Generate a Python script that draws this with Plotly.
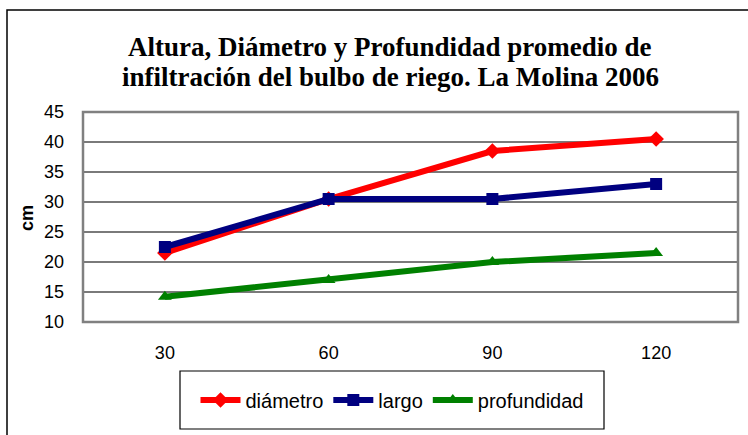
import plotly.graph_objects as go

categories = ["30", "60", "90", "120"]
diametro = [21.5, 30.5, 38.5, 40.5]
largo = [22.5, 30.5, 30.5, 33.0]
profundidad = [14.2, 17.0, 20.0, 21.5]

W, H = 748, 435
L, R, T, B = 83, 10, 112, 113
pw, ph = W - L - R, H - T - B

def px_x(x):
    return (x - L) / pw

def px_y(y):
    return (H - B - y) / ph

fig = go.Figure()
fig.add_trace(go.Scatter(x=categories, y=diametro, name="diámetro", mode="lines+markers",
                         line=dict(color="#FF0000", width=6),
                         marker=dict(symbol="diamond", size=12, color="#FF0000")))
fig.add_trace(go.Scatter(x=categories, y=largo, name="largo", mode="lines+markers",
                         line=dict(color="#000080", width=6),
                         marker=dict(symbol="square", size=12, color="#000080")))
fig.add_trace(go.Scatter(x=categories, y=profundidad, name="profundidad", mode="lines+markers",
                         line=dict(color="#008000", width=6),
                         marker=dict(symbol="triangle-up", size=12, color="#008000")))

fig.update_layout(
    width=W, height=H,
    margin=dict(l=L, r=R, t=T, b=B, autoexpand=False),
    paper_bgcolor="white", plot_bgcolor="white",
    font=dict(family="Arial, Liberation Sans, sans-serif", size=18, color="black"),
    xaxis=dict(type="category", range=[-0.5, 3.5], showgrid=False, showline=False,
               ticks="", ticklabelstandoff=18,
               tickfont=dict(size=18), automargin=False),
    yaxis=dict(range=[10, 45], dtick=5, showgrid=True, gridcolor="#7a7a7a", gridwidth=1.5,
               showline=False, ticks="", ticklabelstandoff=18,
               tickfont=dict(size=18), zeroline=False, automargin=False),
    legend=dict(orientation="h", x=px_x(392), y=px_y(400), xanchor="center", yanchor="middle",
                borderwidth=0, bgcolor="rgba(0,0,0,0)", font=dict(size=20),
                itemwidth=40),
    showlegend=True,
)

# title lines
fig.add_annotation(text="<b>Altura, Diámetro y Profundidad promedio de</b>", xref="paper", yref="paper",
                   x=px_x(390), y=px_y(47), xanchor="center", yanchor="middle", showarrow=False,
                   font=dict(family="Liberation Serif, Times New Roman, serif", size=27, color="black"))
fig.add_annotation(text="<b>infiltración del bulbo de riego. La Molina 2006</b>", xref="paper", yref="paper",
                   x=px_x(390), y=px_y(77), xanchor="center", yanchor="middle", showarrow=False,
                   font=dict(family="Liberation Serif, Times New Roman, serif", size=27, color="black"))
# y axis title
fig.add_annotation(text="<b>cm</b>", xref="paper", yref="paper", x=px_x(27), y=px_y(218),
                   xanchor="center", yanchor="middle", textangle=-90, showarrow=False,
                   font=dict(size=18, color="black"))

# plot area gray border
fig.add_shape(type="rect", xref="paper", yref="paper", x0=0, x1=1, y0=0, y1=1,
              line=dict(color="#808080", width=2.5))
# legend box
fig.add_shape(type="rect", xref="paper", yref="paper", x0=px_x(180), x1=px_x(604),
              y0=px_y(429), y1=px_y(371), line=dict(color="black", width=1.2))
# outer chart border
fig.add_shape(type="rect", xref="paper", yref="paper", x0=px_x(7), x1=px_x(7) + 3,
              y0=-3, y1=px_y(10), line=dict(color="black", width=1.5), layer="below")

fig.write_html("out.html", config={"displayModeBar": False},
               post_script="document.body.style.margin='0';document.body.style.padding='0';")
